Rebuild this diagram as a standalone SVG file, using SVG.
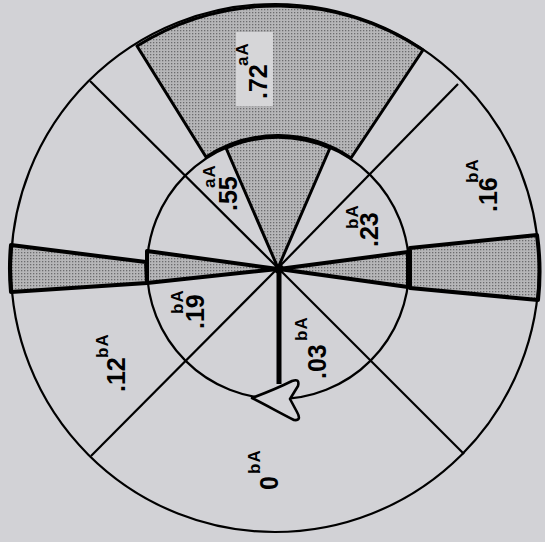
<svg xmlns="http://www.w3.org/2000/svg" width="545" height="542" viewBox="0 0 545 542">
<defs>
<pattern id="dots" width="3" height="3" patternUnits="userSpaceOnUse">
<rect width="3" height="3" fill="#b6b6b8"/>
<rect width="1.3" height="1.3" fill="#6c6c6e"/>
</pattern>
<style>
.shade{fill:url(#dots);stroke:#000;stroke-width:3;stroke-linejoin:round}
.thick{fill:url(#dots);stroke:#000;stroke-width:4;stroke-linejoin:round}
.ln{stroke:#000;stroke-width:2.2;fill:none}
.num{font-family:"Liberation Sans",Arial,sans-serif;font-weight:bold;font-size:25px;fill:#000}
.sup{font-family:"Liberation Sans",Arial,sans-serif;font-weight:bold;font-size:17px;letter-spacing:1px;fill:#000}
</style>
</defs>
<rect width="545" height="542" fill="#d2d2d6"/>
<g id="shaded">
<path class="shade" d="M206,157 L137,46 A264,264 0 0 1 423,50 L351,158 A131,131 0 0 0 206,157 Z"/>
<path class="shade" d="M278,268 L226,148 A131,131 0 0 1 330,148 Z"/>
<path class="thick" d="M11,245 L146,262 L147,283 L11,292 A264,264 0 0 1 11,245 Z"/>
<path class="thick" d="M278,269 L147,251 L147,283 Z"/>
<path class="thick" d="M279,269 L408,252 L408,287 Z"/>
<path class="thick" d="M410,248 L537,235 A264,264 0 0 1 538,300 L410,288 Z"/>
</g>
<g id="circles">
<circle class="ln" cx="275" cy="268" r="264" stroke-width="2.6"/>
<circle class="ln" cx="278" cy="268" r="131" stroke-width="2.4"/>
</g>
<g id="connectors">
<line class="ln" x1="278" y1="268" x2="90" y2="81"/>
<line class="ln" x1="278" y1="268" x2="458" y2="84"/>
<line class="ln" x1="278" y1="268" x2="91" y2="456"/>
<line class="ln" x1="278" y1="268" x2="464" y2="454"/>
<line x1="279" y1="270" x2="279" y2="384" stroke="#000" stroke-width="5"/>
<circle cx="279" cy="269" r="5" fill="#000"/>
</g>
<g id="arrow">
<path d="M252,398 C268,392 282,386 292,381 Q300,378 298,386 L290,399 L297,412 Q302,421 294,420 C282,414 266,405 252,398 Z" fill="#d4d4d8" stroke="#000" stroke-width="2.6" stroke-linejoin="round"/>
</g>
<g id="label-72">
<rect x="236" y="32" width="37" height="74" fill="#d6d6d8"/>
<text class="num" transform="translate(267,99) rotate(-90)">.72</text>
<text class="sup" transform="translate(248,66) rotate(-90)">aA</text>
</g>
<g id="label-55">
<text class="num" transform="translate(237,211) rotate(-90)">.55</text>
<text class="sup" transform="translate(215,188) rotate(-90)">aA</text>
</g>
<g id="label-23">
<text class="num" transform="translate(378,247) rotate(-90)">.23</text>
<text class="sup" transform="translate(358,229) rotate(-90)">bA</text>
</g>
<g id="label-19">
<text class="num" transform="translate(204,329) rotate(-90)">.19</text>
<text class="sup" transform="translate(183,314) rotate(-90)">bA</text>
</g>
<g id="label-03">
<text class="num" transform="translate(326,379) rotate(-90)">.03</text>
<text class="sup" transform="translate(307,341) rotate(-90)">bA</text>
</g>
<g id="label-12">
<text class="num" transform="translate(125,392) rotate(-90)">.12</text>
<text class="sup" transform="translate(108,358) rotate(-90)">bA</text>
</g>
<g id="label-16">
<text class="num" transform="translate(497,212) rotate(-90)">.16</text>
<text class="sup" transform="translate(478,183) rotate(-90)">bA</text>
</g>
<g id="label-0">
<text class="num" transform="translate(278,490) rotate(-90)">0</text>
<text class="sup" transform="translate(260,474) rotate(-90)">bA</text>
</g>
</svg>
